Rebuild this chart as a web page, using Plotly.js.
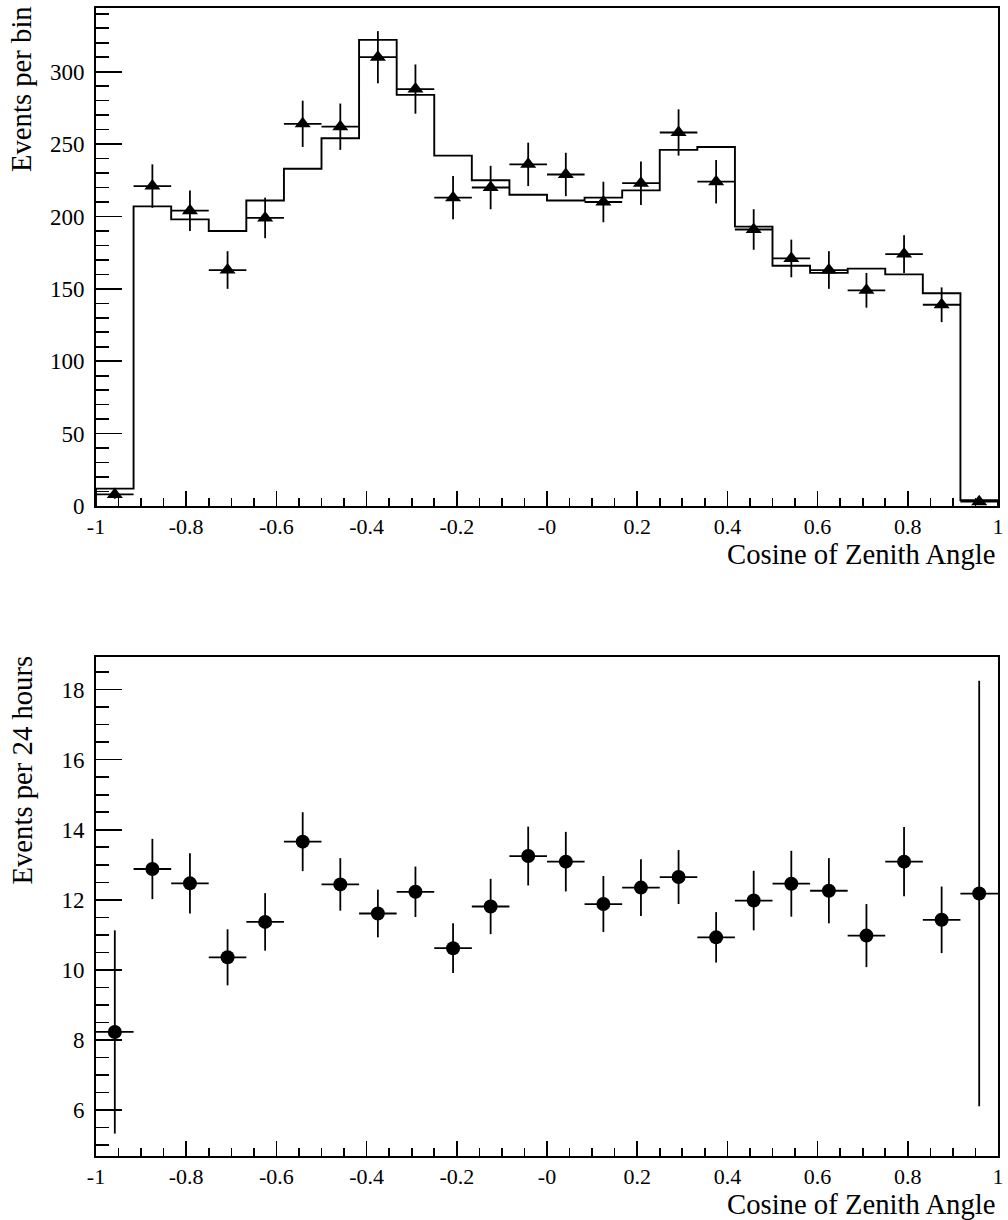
<!DOCTYPE html>
<html>
<head>
<meta charset="utf-8">
<script src="https://cdn.plot.ly/plotly-3.0.1.min.js"></script>
<style>html,body{margin:0;padding:0;background:#fff;}#chart{width:1008px;height:1220px;}</style>
</head>
<body>
<div id="chart"></div>
<script>
// ---- data ----
const binEdges = [-1, -0.9167, -0.8333, -0.75, -0.6667, -0.5833, -0.5, -0.4167, -0.3333, -0.25, -0.1667, -0.0833, 0, 0.0833, 0.1667, 0.25, 0.3333, 0.4167, 0.5, 0.5833, 0.6667, 0.75, 0.8333, 0.9167, 1];
const binCenters = [-0.9583, -0.875, -0.7917, -0.7083, -0.625, -0.5417, -0.4583, -0.375, -0.2917, -0.2083, -0.125, -0.0417, 0.0417, 0.125, 0.2083, 0.2917, 0.375, 0.4583, 0.5417, 0.625, 0.7083, 0.7917, 0.875, 0.9583];
const binHalfWidth = 0.04167;

// top panel: simulated distribution (histogram) and observed events
const mcEvents = [12, 207, 198, 190, 211, 233, 254, 322, 284, 242, 225, 215, 211, 213, 218, 246, 248, 193, 166, 161, 164, 160, 147, 4];
const dataEvents = [8, 221, 204, 163, 199, 264, 262, 310, 288, 213, 220, 236, 229, 210, 223, 258, 224, 191, 171, 163, 149, 174, 139, 3];
const dataErr = [3, 15, 14, 13, 14, 16, 16, 18, 17, 15, 15, 15, 15, 14, 15, 16, 15, 14, 13, 13, 12, 13, 12, 2];

// bottom panel: events per 24 hours
const rateValues = [8.23, 12.88, 12.47, 10.36, 11.37, 13.66, 12.44, 11.61, 12.23, 10.62, 11.81, 13.25, 13.09, 11.88, 12.35, 12.65, 10.93, 11.98, 12.46, 12.26, 10.98, 13.09, 11.43, 12.18];
const rateErr = [2.9, 0.86, 0.86, 0.8, 0.82, 0.84, 0.75, 0.68, 0.72, 0.71, 0.79, 0.84, 0.85, 0.8, 0.81, 0.77, 0.72, 0.85, 0.94, 0.93, 0.9, 0.99, 0.95, 6.07];

// tick labels and titles
const xTickVals = [-1, -0.8, -0.6, -0.4, -0.2, 0, 0.2, 0.4, 0.6, 0.8, 1];
const xTickText = ['-1', '-0.8', '-0.6', '-0.4', '-0.2', '-0', '0.2', '0.4', '0.6', '0.8', '1'];
const xTitle = 'Cosine of Zenith Angle';
const yTitleTop = 'Events per bin';
const yTitleBottom = 'Events per 24 hours';

// ---- build the step outline of the histogram from its bins ----
const stepX = [binEdges[0]].concat(binEdges.slice(0, mcEvents.length), [binEdges[binEdges.length - 1]]);
const stepY = [0].concat(mcEvents, [0]);

const FONT = 'Liberation Serif';
const W = 1008, H = 1220;
const px = v => v / W;
const py = v => 1 - v / H;

const traces = [
  {
    type: 'scatter', mode: 'lines', x: stepX, y: stepY,
    line: {shape: 'hv', color: '#000', width: 1.9},
    xaxis: 'x', yaxis: 'y', hoverinfo: 'skip'
  },
  {
    type: 'scatter', mode: 'markers', x: binCenters, y: dataEvents,
    marker: {symbol: 'triangle-up', size: 14, color: '#000'},
    error_y: {type: 'data', array: dataErr, visible: true, color: '#000', thickness: 1.8, width: 0},
    error_x: {type: 'constant', value: binHalfWidth, visible: true, color: '#000', thickness: 1.8, width: 0},
    xaxis: 'x', yaxis: 'y'
  },
  {
    type: 'scatter', mode: 'markers', x: binCenters, y: rateValues,
    marker: {symbol: 'circle', size: 14, color: '#000'},
    error_y: {type: 'data', array: rateErr, visible: true, color: '#000', thickness: 1.8, width: 0},
    error_x: {type: 'constant', value: binHalfWidth, visible: true, color: '#000', thickness: 1.8, width: 0},
    xaxis: 'x2', yaxis: 'y2'
  }
];

const xDomain = [px(96), px(998)];
function xAxis(anchor) {
  return {
    domain: xDomain, anchor: anchor, range: [-1, 1], fixedrange: true,
    tickmode: 'array', tickvals: xTickVals, ticktext: xTickText,
    ticks: 'inside', ticklen: 15, tickwidth: 1.6, tickcolor: '#000',
    minor: {tickmode: 'linear', tick0: -1, dtick: 0.05, ticks: 'inside', ticklen: 8, tickwidth: 1.6, tickcolor: '#000', showgrid: false},
    showline: true, mirror: true, linecolor: '#000', linewidth: 2,
    showgrid: false, zeroline: false,
    tickfont: {family: FONT, size: 22, color: '#000'}
  };
}
function yAxis(anchor, domain, range, dtick, minorDtick) {
  return {
    domain: domain, anchor: anchor, range: range, fixedrange: true,
    tickmode: 'linear', tick0: 0, dtick: dtick,
    ticks: 'inside', ticklen: 26, tickwidth: 1.6, tickcolor: '#000',
    minor: {tickmode: 'linear', tick0: 0, dtick: minorDtick, ticks: 'inside', ticklen: 13, tickwidth: 1.6, tickcolor: '#000', showgrid: false},
    showline: true, mirror: true, linecolor: '#000', linewidth: 2,
    showgrid: false, zeroline: false,
    ticklabelstandoff: 5,
    tickfont: {family: FONT, size: 23, color: '#000'}
  };
}

const titleFont = {family: FONT, size: 28.7, color: '#000'};
const layout = {
  width: W, height: H,
  margin: {l: 0, r: 0, t: 0, b: 0},
  paper_bgcolor: '#fff', plot_bgcolor: '#fff',
  showlegend: false,
  font: {family: FONT, color: '#000', size: 22},
  xaxis: xAxis('y'),
  yaxis: yAxis('x', [py(506), py(8)], [0, 344], 50, 10),
  xaxis2: xAxis('y2'),
  yaxis2: yAxis('x2', [py(1156), py(657)], [4.69, 18.93], 2, 0.5),
  annotations: [
    {text: xTitle, xref: 'paper', yref: 'paper', x: px(998), y: py(554), xanchor: 'right', yanchor: 'middle', showarrow: false, font: titleFont},
    {text: xTitle, xref: 'paper', yref: 'paper', x: px(998), y: py(1204), xanchor: 'right', yanchor: 'middle', showarrow: false, font: titleFont},
    {text: yTitleTop, xref: 'paper', yref: 'paper', x: px(21), y: py(4), xanchor: 'center', yanchor: 'top', textangle: -90, showarrow: false, font: titleFont},
    {text: yTitleBottom, xref: 'paper', yref: 'paper', x: px(21), y: py(654), xanchor: 'center', yanchor: 'top', textangle: -90, showarrow: false, font: titleFont}
  ]
};

Plotly.newPlot('chart', traces, layout, {displayModeBar: false, staticPlot: true});
</script>
</body>
</html>
